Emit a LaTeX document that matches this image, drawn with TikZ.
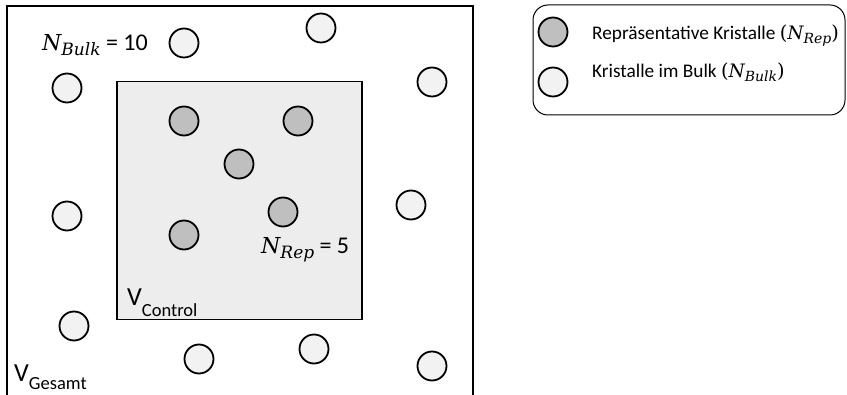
\documentclass[tikz,border=0pt]{standalone}
\usepackage{fontspec}
\setmainfont{Carlito}
\newfontfamily\serifup{DejaVu Serif}
\newcommand{\Nsb}[4]{{\serifup\itshape\fontsize{#1}{#1}\selectfont N\raisebox{-#3}{\fontsize{#2}{#2}\selectfont #4}}}
\begin{document}
\begin{tikzpicture}[x=1pt,y=-1pt,
  bulk/.style={circle, draw=black, line width=1.8pt, fill=bulkfill, minimum size=29pt, inner sep=0pt},
  rep/.style={circle, draw=black, line width=1.8pt, fill=repfill, minimum size=29pt, inner sep=0pt},
  lbl/.style={anchor=base west, inner sep=0pt, font=\fontsize{24}{28}\selectfont},
  leg/.style={anchor=base west, inner sep=0pt, font=\fontsize{19.3}{23}\selectfont},
  legendbox/.style={draw=black, line width=1pt, rounded corners=15pt, minimum width=312pt, minimum height=110pt, inner sep=0pt}]
\definecolor{bulkfill}{HTML}{F2F2F2}
\definecolor{repfill}{HTML}{BFBFBF}
\definecolor{ctrlfill}{HTML}{EDEDED}
\useasboundingbox (0,0) rectangle (847,395);
% outer volume (open at bottom)
\coordinate (oBL) at (7,396);
\coordinate (oTL) at (7,6);
\coordinate (oTR) at (473,6);
\coordinate (oBR) at (473,396);
\draw[line width=1.6pt] (oBL) -- (oTL) -- (oTR) -- (oBR);
% control volume
\node[draw=black, line width=1.6pt, fill=ctrlfill, minimum width=245pt, minimum height=238pt, inner sep=0pt] (ctrl) at (239.5,200.5) {};
% bulk crystals
\node[bulk] (b1) at (184,43) {};
\node[bulk] (b2) at (321,28) {};
\node[bulk] (b3) at (67,88) {};
\node[bulk] (b4) at (432,82) {};
\node[bulk] (b5) at (67,216) {};
\node[bulk] (b6) at (411,205) {};
\node[bulk] (b7) at (74,326) {};
\node[bulk] (b8) at (199,359) {};
\node[bulk] (b9) at (314,349) {};
\node[bulk] (b10) at (432,366) {};
% representative crystals
\node[rep] (r1) at (184,121) {};
\node[rep] (r2) at (298,121) {};
\node[rep] (r3) at (239,164) {};
\node[rep] (r4) at (283,212) {};
\node[rep] (r5) at (184,235) {};
% labels
\node[lbl] (nbulk) at (42,51) {\Nsb{22pt}{17pt}{5pt}{Bulk}\ = 10};
\node[lbl] (nrep) at (261,254) {\Nsb{22pt}{17pt}{5pt}{Rep}\ = 5};
\node[anchor=base west, inner sep=0pt] (vctrl) at (127,306) {\fontsize{26}{30}\selectfont V\raisebox{-11pt}{\fontsize{18.5}{22}\selectfont Control}};
\node[anchor=base west, inner sep=0pt] (vges) at (14,382) {\fontsize{26}{30}\selectfont V\raisebox{-8pt}{\fontsize{18.5}{22}\selectfont Gesamt}};
% legend
\node[legendbox] (legend) at (689,60) {};
\node[rep] (lrep) at (553,32) {};
\node[bulk] (lbulk) at (553,82) {};
\node[leg] (trep) at (592,40) {Repräsentative Kristalle {\serifup(}\Nsb{18.5pt}{14pt}{3.5pt}{Rep}{\serifup)}};
\node[leg] (tbulk) at (592,78) {Kristalle im Bulk {\serifup(}\Nsb{18.5pt}{14pt}{3.5pt}{Bulk}{\serifup)}};
\end{tikzpicture}
\end{document}
